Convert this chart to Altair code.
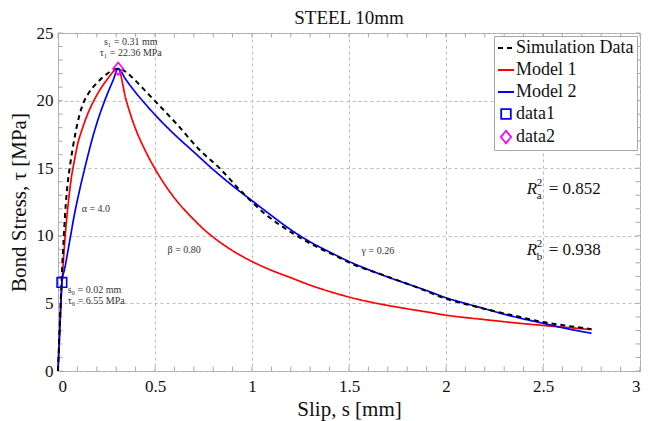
import altair as alt
import pandas as pd

# Bond stress-slip curves for a 10 mm steel bar
sim_s = [0, 0.01, 0.02, 0.03, 0.04, 0.05, 0.06, 0.075, 0.09, 0.11, 0.13, 0.16, 0.2,
         0.25, 0.29, 0.31, 0.33, 0.36, 0.38, 0.438, 0.498, 0.61, 0.73, 0.833, 0.937,
         1.074, 1.211, 1.349, 1.443, 1.504, 1.675, 1.847, 2.0, 2.17, 2.35, 2.5,
         2.62, 2.75]
sim_tau = [0, 3.8, 7.2, 10.0, 12.3, 13.9, 15.0, 16.4, 17.6, 18.9, 19.8, 20.6, 21.3,
           21.95, 22.3, 22.36, 22.3, 22.0, 21.75, 20.9, 20.0, 18.3, 16.35, 15.0, 13.4,
           11.54, 10.18, 9.07, 8.45, 8.0, 7.1, 6.2, 5.35, 4.7, 4.1, 3.62,
           3.35, 3.1]

m1_s = [0, 0.005, 0.01, 0.02, 0.03, 0.04, 0.05, 0.06, 0.07, 0.085, 0.1, 0.125, 0.15,
        0.2, 0.25, 0.31, 0.35, 0.4, 0.45, 0.5, 0.55, 0.6, 0.65, 0.7, 0.75, 0.8, 0.9,
        1.0, 1.1, 1.2, 1.3, 1.4, 1.5, 1.6, 1.7, 1.8, 1.9, 2.0, 2.2, 2.4, 2.6, 2.75]
m1_tau = [0, 1.8, 3.5, 6.3, 8.6, 10.5, 12.0, 13.3, 14.4, 15.6, 16.7, 17.9, 18.9,
          20.4, 21.5, 22.36, 20.1, 17.9, 16.3, 14.95, 13.8, 12.8, 11.95, 11.2, 10.5,
          9.9, 8.9, 8.1, 7.45, 6.9, 6.35, 5.88, 5.47, 5.13, 4.85, 4.6, 4.37, 4.13,
          3.8, 3.5, 3.25, 3.06]

m2_s = [0, 0.01, 0.02, 0.035, 0.06, 0.085, 0.107, 0.138, 0.189, 0.241, 0.284, 0.31,
        0.35, 0.4, 0.45, 0.5, 0.6, 0.7, 0.8, 0.9, 1.0, 1.1, 1.2, 1.3, 1.4, 1.5,
        1.6, 1.7, 1.8, 1.9, 2.0, 2.1, 2.2, 2.3, 2.4, 2.5, 2.6, 2.75]
m2_tau = [0, 3.3, 6.55, 7.6, 9.6, 11.6, 13.1, 15.0, 17.8, 20.0, 21.5, 22.36,
          21.55, 20.6, 19.75, 18.95, 17.5, 16.2, 14.9, 13.7, 12.6, 11.5, 10.45, 9.55,
          8.8, 8.1, 7.5, 6.95, 6.45, 5.95, 5.42, 5.0, 4.6, 4.2, 3.85, 3.53, 3.2, 2.79]

# Characteristic points (s0, tau0) and (s1, tau1)
key_names = ["data1", "data2"]
key_s = [0.02, 0.31]
key_tau = [6.55, 22.36]

series = ["Simulation Data", "Model 1", "Model 2", "data1", "data2"]
colors = ["#000000", "#ff0000", "#0000ff", "#0000ff", "#ff00ff"]
shapes = ["M-1,0H1", "M-1,0H1", "M-1,0H1",
          "M-0.6,-0.6H0.6V0.6H-0.6Z", "M0,-0.78L0.64,0L0,0.78L-0.64,0Z"]
dashes = [[5, 4], [1, 0], [1, 0], [1, 0], [1, 0]]

x_ticks = [0, 0.5, 1, 1.5, 2, 2.5, 3]
y_ticks = [0, 5, 10, 15, 20, 25]
x_minor = [i / 10 for i in range(31)]
y_minor = list(range(26))

lines = pd.concat([
    pd.DataFrame({"s": sim_s, "tau": sim_tau, "series": "Simulation Data"}),
    pd.DataFrame({"s": m1_s, "tau": m1_tau, "series": "Model 1"}),
    pd.DataFrame({"s": m2_s, "tau": m2_tau, "series": "Model 2"}),
])
points = pd.DataFrame({"s": key_s, "tau": key_tau, "series": key_names})

peak_notes = pd.DataFrame({
    "s": [0.375, 0.375],
    "tau": [24.33, 23.52],
    "label": ["s₁ = 0.31 mm", "τ₁ = 22.36 MPa"],
})
param_notes = pd.DataFrame({
    "s": [0.122, 0.565, 1.565, 0.05, 0.05],
    "tau": [11.98, 8.95, 8.88, 5.99, 5.18],
    "label": ["α = 4.0", "β = 0.80", "γ = 0.26", "s₀ = 0.02 mm", "τ₀ = 6.55 MPa"],
})
r2 = pd.DataFrame({"s": [2.416, 2.416], "tau": [13.46, 8.95],
                   "sub": ["a", "b"], "value": ["= 0.852", "= 0.938"]})

xs = alt.Scale(domain=[0, 3], nice=False)
ys = alt.Scale(domain=[0, 25], nice=False)
X = alt.X("s:Q", scale=xs, axis=alt.Axis(values=x_ticks, format="~g", title="Slip, s [mm]"))
Y = alt.Y("tau:Q", scale=ys, axis=alt.Axis(values=y_ticks, title="Bond Stress, τ [MPa]"))
XP = alt.X("s:Q", scale=xs)
YP = alt.Y("tau:Q", scale=ys)

color = alt.Color("series:N", scale=alt.Scale(domain=series, range=colors),
                  legend=alt.Legend(title=None))
shape = alt.Shape("series:N", scale=alt.Scale(domain=series, range=shapes),
                  legend=alt.Legend(title=None))
dash = alt.StrokeDash("series:N", scale=alt.Scale(domain=series, range=dashes),
                      legend=alt.Legend(title=None))

# inward minor ticks on all four sides of the frame
tick_col = "#a8a8a8"
xt = pd.DataFrame({"s": x_minor})
yt = pd.DataFrame({"tau": y_minor})
ticks_bottom = alt.Chart(xt).mark_rule(color=tick_col, strokeWidth=1).encode(
    x=XP, y=alt.value(338), y2=alt.value(333.5))
ticks_top = alt.Chart(xt).mark_rule(color=tick_col, strokeWidth=1).encode(
    x=XP, y=alt.value(0), y2=alt.value(4.5))
ticks_left = alt.Chart(yt).mark_rule(color=tick_col, strokeWidth=1).encode(
    y=YP, x=alt.value(0), x2=alt.value(4.5))
ticks_right = alt.Chart(yt).mark_rule(color=tick_col, strokeWidth=1).encode(
    y=YP, x=alt.value(582), x2=alt.value(577.5))

model_lines = alt.Chart(lines[lines.series != "Simulation Data"]).mark_line(
    interpolate="monotone", strokeWidth=1.7).encode(
    x=X, y=Y, color=color, strokeDash=dash, detail="series:N")
sim_line = alt.Chart(lines[lines.series == "Simulation Data"]).mark_line(
    interpolate="monotone", strokeWidth=2).encode(
    x=X, y=Y, color=color, strokeDash=dash, detail="series:N")
markers = alt.Chart(points).mark_point(filled=False, size=256, strokeWidth=1.6, opacity=1).encode(
    x=X, y=Y, color=color, shape=shape)

peak_text = alt.Chart(peak_notes).mark_text(
    fontSize=10, color="#333333", baseline="middle", align="center").encode(
    x=XP, y=YP, text="label:N")
param_text = alt.Chart(param_notes).mark_text(
    fontSize=10, color="#333333", baseline="middle", align="left").encode(
    x=XP, y=YP, text="label:N")

r_main = alt.Chart(r2).mark_text(fontSize=17, fontStyle="italic", align="left",
                                 baseline="middle", color="#111111").encode(
    x=XP, y=YP, text=alt.value("R"))
r_sup = alt.Chart(r2).mark_text(fontSize=11, align="left", baseline="middle",
                                dx=10, dy=-6, color="#111111").encode(
    x=XP, y=YP, text=alt.value("2"))
r_sub = alt.Chart(r2).mark_text(fontSize=11, align="left", baseline="middle",
                                dx=10, dy=7, color="#111111").encode(
    x=XP, y=YP, text="sub:N")
r_val = alt.Chart(r2).mark_text(fontSize=17, align="left", baseline="middle",
                                dx=22, color="#111111").encode(
    x=XP, y=YP, text="value:N")

chart = alt.layer(
    ticks_bottom, ticks_top, ticks_left, ticks_right,
    model_lines, sim_line, markers, peak_text, param_text,
    r_main, r_sup, r_sub, r_val,
).properties(
    width=582, height=338,
    title=alt.TitleParams("STEEL 10mm", dy=13),
    padding={"left": 58, "top": 33, "right": 19, "bottom": 50},
    autosize=alt.AutoSizeParams(type="none"),
).configure(
    font="Liberation Serif",
).configure_view(
    stroke="#a8a8a8", strokeWidth=1,
).configure_axis(
    labelFont="Liberation Serif", titleFont="Liberation Serif",
    labelFontSize=17, titleFontSize=21, labelColor="#111111", titleColor="#111111",
    titleFontWeight="normal", domain=False, ticks=False,
    grid=True, gridColor="#bdbdbd", gridDash=[3, 3], gridWidth=1,
).configure_axisX(
    labelPadding=7, titleBaseline="alphabetic", titleY=44,
).configure_axisY(
    labelPadding=5, titlePadding=7,
).configure_legend(
    orient="top-right", offset=3, padding=3,
    fillColor="#ffffff", strokeColor="#a8a8a8",
    labelFont="Liberation Serif", labelFontSize=18, labelColor="#111111",
    symbolSize=256, symbolStrokeWidth=1.8, rowPadding=4, labelOffset=1,
).configure_title(
    font="Liberation Serif", fontSize=19, fontWeight="normal", color="#111111",
    offset=9, anchor="middle",
)

chart.save("out.html", embed_options={"renderer": "svg", "actions": False})
